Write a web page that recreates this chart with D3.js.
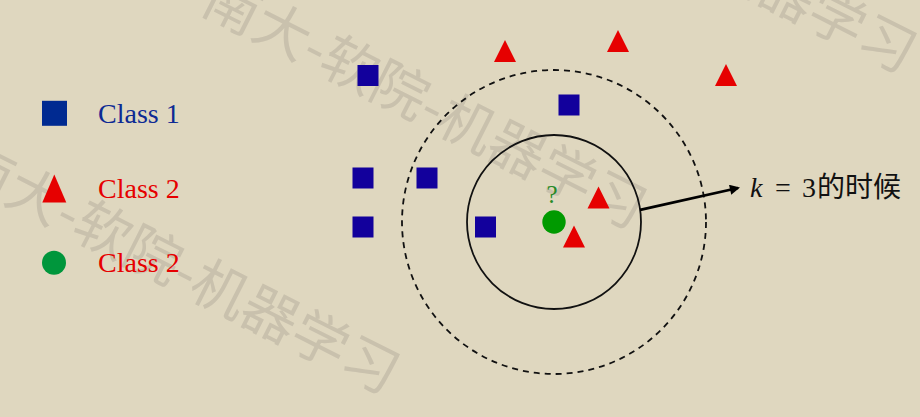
<!DOCTYPE html>
<html>
<head>
<meta charset="utf-8">
<script src="https://cdn.jsdelivr.net/npm/d3@7"></script>
<style>
  html, body { margin: 0; padding: 0; background: #dfd7bf; }
  svg { display: block; }
</style>
</head>
<body>
<div id="knn"></div>
<script>
// data, in units around the query point
var classOneX = [-3.72, 0.30, -3.82, -2.54, -3.82, -1.37];
var classOneY = [2.93, 2.34, 0.88, 0.88, -0.10, -0.10];
var classTwoX = [-0.98, 1.28, 3.44, 0.89, 0.40];
var classTwoY = [3.42, 3.62, 2.94, 0.49, -0.29];
var queryX = [0];
var queryY = [0];
var radii = [1.74, 3.04];          // solid (k=3), dashed
var arrowStartDeg = 8;
var arrowEnd = [3.68, 0.68];
var legendLabels = ["Class 1", "Class 2", "Class 2"];
var watermark = "南大-软院-机器学习";

var width = 920, height = 417;

var svg = d3.select("#knn").append("svg")
  .attr("width", width)
  .attr("height", height);

svg.append("rect")
  .attr("width", width)
  .attr("height", height)
  .attr("fill", "#dfd7bf");

var x = d3.scaleLinear().domain([-5, 5]).range([304, 804]);
var y = d3.scaleLinear().domain([-5, 5]).range([472, -28]);

// watermark
var wm = svg.append("g");
[[427, 99], [180, 264], [697, -57]].forEach(function(p) {
  wm.append("text")
    .attr("transform", "translate(" + p[0] + "," + p[1] + ") rotate(26.8)")
    .attr("text-anchor", "middle")
    .attr("dominant-baseline", "central")
    .style("font-family", "'Noto Sans CJK SC'")
    .style("font-size", "56px")
    .attr("fill", "#c9c1ad")
    .text(watermark);
});

// circles
var rpx = function(r) { return x(r) - x(0); };
svg.append("circle")
  .attr("cx", x(queryX[0])).attr("cy", y(queryY[0]))
  .attr("r", rpx(radii[0]))
  .attr("fill", "none").attr("stroke", "#111").attr("stroke-width", 1.8);
svg.append("circle")
  .attr("cx", x(queryX[0])).attr("cy", y(queryY[0]))
  .attr("r", rpx(radii[1]))
  .attr("fill", "none").attr("stroke", "#111").attr("stroke-width", 1.8)
  .attr("stroke-dasharray", "6,5");

// arrow
svg.append("defs").append("marker")
  .attr("id", "head")
  .attr("viewBox", "0 0 10 10")
  .attr("refX", 8).attr("refY", 5)
  .attr("markerWidth", 5).attr("markerHeight", 3.6)
  .attr("markerUnits", "strokeWidth")
  .attr("orient", "auto")
  .append("path").attr("d", "M0,0 L10,5 L0,10 Z").attr("fill", "#000");

var ang = arrowStartDeg * Math.PI / 180;
svg.append("line")
  .attr("x1", x(radii[0] * Math.cos(ang)))
  .attr("y1", y(radii[0] * Math.sin(ang)))
  .attr("x2", x(arrowEnd[0]))
  .attr("y2", y(arrowEnd[1]))
  .attr("stroke", "#000").attr("stroke-width", 2.8)
  .attr("marker-end", "url(#head)");

// points
var sq = 21;
svg.selectAll(".c1")
  .data(classOneX)
  .enter().append("rect")
  .attr("class", "c1")
  .attr("x", function(d) { return x(d) - sq / 2; })
  .attr("y", function(d, i) { return y(classOneY[i]) - sq / 2; })
  .attr("width", sq).attr("height", sq)
  .attr("fill", "#12009c");

function tri(w, h) {
  return "M0," + (-h / 2) + "L" + (w / 2) + "," + (h / 2) + "L" + (-w / 2) + "," + (h / 2) + "Z";
}
svg.selectAll(".c2")
  .data(classTwoX)
  .enter().append("path")
  .attr("class", "c2")
  .attr("d", tri(22, 22))
  .attr("transform", function(d, i) { return "translate(" + x(d) + "," + y(classTwoY[i]) + ")"; })
  .attr("fill", "#e60000");

svg.append("circle")
  .attr("cx", x(queryX[0])).attr("cy", y(queryY[0]))
  .attr("r", 11.7)
  .attr("fill", "#009a00");

svg.append("text")
  .attr("x", x(queryX[0]) - 2).attr("y", y(queryY[0]) - 19)
  .attr("text-anchor", "middle")
  .style("font-family", "'Liberation Serif'")
  .style("font-size", "25px")
  .attr("fill", "#278a27")
  .text("?");

// label
var lab = svg.append("text")
  .attr("y", 197)
  .attr("fill", "#111")
  .style("font-size", "28px");
lab.append("tspan").attr("x", 750)
  .style("font-family", "'Liberation Serif'").style("font-style", "italic").text("k");
lab.append("tspan").attr("x", 775)
  .style("font-family", "'Liberation Serif'").text("=");
lab.append("tspan").attr("x", 802)
  .style("font-family", "'Liberation Serif'").text("3");
lab.append("tspan").attr("x", 817)
  .style("font-family", "'Noto Sans CJK SC'").text("的时候");

// legend
var legendY = [113.3, 188.5, 262.7];
var legendColors = ["#0d2a94", "#e60000", "#e60000"];
var lg = svg.append("g");
lg.append("rect")
  .attr("x", 42).attr("y", legendY[0] - 12.5)
  .attr("width", 25).attr("height", 25)
  .attr("fill", "#002a91");
lg.append("path")
  .attr("d", tri(24, 28))
  .attr("transform", "translate(54.3," + legendY[1] + ")")
  .attr("fill", "#e60000");
lg.append("circle")
  .attr("cx", 54).attr("cy", legendY[2]).attr("r", 12)
  .attr("fill", "#00963c");
lg.selectAll(".lt")
  .data(legendLabels)
  .enter().append("text")
  .attr("class", "lt")
  .attr("x", 98)
  .attr("y", function(d, i) { return legendY[i] + 9.6; })
  .style("font-family", "'Liberation Serif'")
  .style("font-size", "28px")
  .attr("fill", function(d, i) { return legendColors[i]; })
  .text(function(d) { return d; });
</script>
</body>
</html>
